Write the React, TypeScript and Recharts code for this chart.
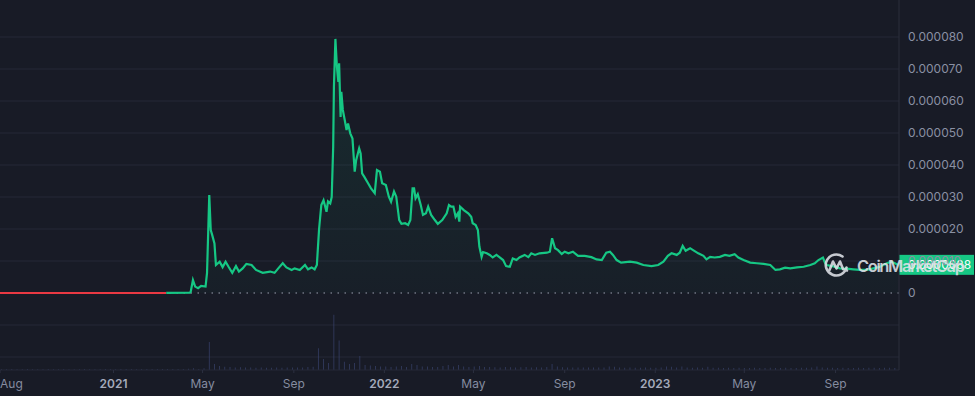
import React from "react";
import {
  ComposedChart, Line, Area, Bar, XAxis, YAxis, CartesianGrid, ReferenceLine,
} from "recharts";

// price in millionths of USD
const PRICE_UNIT = 1e-6;

const redDates = [
  "2020-08-01", "2020-09-01", "2020-10-01", "2020-11-01", "2020-12-01",
  "2021-01-01", "2021-02-01", "2021-03-13",
];
const redPrices = [0.001, 0.001, 0.001, 0.002, 0.002, 0.003, 0.008, 0.03];

const priceDates = [
  "2021-03-13", "2021-04-14", "2021-04-15", "2021-04-18", "2021-04-21", "2021-04-25", "2021-04-29",
  "2021-05-05", "2021-05-07", "2021-05-10", "2021-05-12", "2021-05-14", "2021-05-17", "2021-05-19",
  "2021-05-24", "2021-05-28", "2021-06-01", "2021-06-05", "2021-06-10", "2021-06-15", "2021-06-19",
  "2021-06-24", "2021-06-29", "2021-07-06", "2021-07-12", "2021-07-21", "2021-07-31", "2021-08-06",
  "2021-08-11", "2021-08-17", "2021-08-22", "2021-08-29", "2021-09-02", "2021-09-09", "2021-09-16",
  "2021-09-20", "2021-09-25", "2021-09-29", "2021-10-02", "2021-10-05", "2021-10-08", "2021-10-11",
  "2021-10-15", "2021-10-17", "2021-10-20", "2021-10-22", "2021-10-24", "2021-10-25", "2021-10-27",
  "2021-10-29", "2021-10-31", "2021-11-01", "2021-11-03", "2021-11-04", "2021-11-06", "2021-11-09",
  "2021-11-11", "2021-11-13", "2021-11-16", "2021-11-19", "2021-11-22", "2021-11-24", "2021-11-28",
  "2021-11-30", "2021-12-02", "2021-12-05", "2021-12-10", "2021-12-14", "2021-12-19", "2021-12-22",
  "2021-12-26", "2021-12-29", "2022-01-03", "2022-01-07", "2022-01-10", "2022-01-14", "2022-01-17",
  "2022-01-21", "2022-01-24", "2022-01-29", "2022-02-02", "2022-02-05", "2022-02-08", "2022-02-10",
  "2022-02-12", "2022-02-15", "2022-02-19", "2022-02-22", "2022-02-26", "2022-03-01", "2022-03-05",
  "2022-03-10", "2022-03-14", "2022-03-20", "2022-03-26", "2022-03-29", "2022-04-01", "2022-04-04",
  "2022-04-07", "2022-04-10", "2022-04-12", "2022-04-13", "2022-04-18", "2022-04-24", "2022-04-28",
  "2022-04-30", "2022-05-04", "2022-05-07", "2022-05-09", "2022-05-12", "2022-05-14", "2022-05-19",
  "2022-05-23", "2022-05-27", "2022-06-01", "2022-06-05", "2022-06-10", "2022-06-14", "2022-06-19",
  "2022-06-23", "2022-06-28", "2022-07-02", "2022-07-09", "2022-07-14", "2022-07-18", "2022-07-23",
  "2022-07-29", "2022-08-08", "2022-08-12", "2022-08-15", "2022-08-19", "2022-08-23", "2022-08-28",
  "2022-09-01", "2022-09-06", "2022-09-12", "2022-09-19", "2022-09-28", "2022-10-07", "2022-10-14",
  "2022-10-21", "2022-10-27", "2022-11-01", "2022-11-05", "2022-11-10", "2022-11-16", "2022-11-28",
  "2022-12-07", "2022-12-16", "2022-12-27", "2023-01-05", "2023-01-12", "2023-01-18", "2023-01-23",
  "2023-01-30", "2023-02-03", "2023-02-07", "2023-02-11", "2023-02-17", "2023-02-21", "2023-02-28",
  "2023-03-07", "2023-03-11", "2023-03-16", "2023-03-22", "2023-03-29", "2023-04-05", "2023-04-11",
  "2023-04-18", "2023-04-23", "2023-04-30", "2023-05-09", "2023-05-18", "2023-05-27", "2023-06-05",
  "2023-06-12", "2023-06-18", "2023-06-25", "2023-07-02", "2023-07-11", "2023-07-20", "2023-07-29",
  "2023-08-04", "2023-08-09", "2023-08-15", "2023-08-18", "2023-08-20", "2023-08-29", "2023-09-07",
  "2023-09-16", "2023-09-25", "2023-10-04", "2023-10-13", "2023-10-22", "2023-10-31", "2023-11-09",
  "2023-11-15", "2023-11-20", "2023-11-24",
];
const prices = [
  0.03, 0.1, 0.4, 4.06, 2.0, 1.5, 2.2,
  2.0, 6.3, 30.6, 19.7, 18.1, 15.5, 8.75,
  9.8, 8.1, 9.8, 8.2, 6.3, 8.4, 6.7,
  7.7, 9.1, 8.75, 7.2, 6.3, 6.7, 6.3,
  7.7, 9.3, 8.0, 7.2, 7.7, 7.2, 8.75,
  7.4, 8.0, 7.4, 8.75, 20, 27.5, 29,
  25.4, 28.6, 28, 30, 45.7, 64.5, 79.4,
  70.7, 66, 71.8, 55, 62.9, 57.2, 53.5,
  50.9, 53, 49.9, 48.3, 37.9, 41.6, 45.2,
  43.6, 37.4, 36.3, 34.3, 32.7, 31.2, 38.4,
  37.9, 34.3, 33.75, 30.1, 28.5, 31.7, 30.1,
  22.8, 21.6, 21.8, 21.25, 22.8, 32.7, 32.7,
  29.6, 30.9, 27.5, 24.4, 24.9, 27, 24.4,
  22.8, 21.6, 22.8, 24.9, 27.5, 27, 27,
  23.8, 24.9, 22.3, 27, 25.9, 24.9, 23.8,
  21.8, 21.25, 19.7, 14.5, 11.3, 12.8, 12.4,
  11.9, 11.1, 11.9, 11.2, 10.3, 8.4, 8.2,
  10.8, 10.3, 11.1, 11.9, 11.2, 12.4, 11.9,
  12.4, 12.6, 12.9, 17.1, 14, 13.4, 12.2,
  12.9, 12.4, 12.9, 11.6, 11.6, 11.2, 10.5,
  10.3, 12.6, 12.9, 11.9, 10.3, 9.5, 9.8,
  9.5, 8.75, 8.4, 8.75, 9.8, 11.6, 12.4,
  11.9, 12.6, 14.7, 13.2, 14, 13.4, 12.4,
  11.6, 10.5, 11.3, 11.1, 11.3, 11.9, 11.6,
  12.1, 11.1, 10.3, 9.5, 9.3, 9.1, 8.75,
  7.2, 7.4, 7.9, 7.7, 8.0, 8.2, 8.75,
  9.3, 10.3, 11.1, 9.3, 8.75, 8.3, 7.7,
  7.6, 7.4, 7.2, 7.2, 7.7, 8.2, 9.3,
  9.8, 9.3, 8.8,
];

// weekly volume (billion USD), first week starting 2020-08-03
const volumeStart = "2020-08-03";
const volumes = [
  0.2, 0.2, 0.25, 0.2, 0.2, 0.25, 0.2, 0.2, 0.2, 0.25,
  0.2, 0.2, 0.25, 0.2, 0.2, 0.2, 0.25, 0.2, 0.2, 0.2,
  0.25, 0.2, 0.2, 0.25, 0.3, 0.25, 0.2, 0.25, 0.3, 0.25,
  0.3, 0.25, 0.3, 0.3, 0.25, 0.3, 0.35, 0.45, 0.3, 0.45,
  7.6, 1.6, 1.1, 0.85, 0.8, 0.7, 0.75, 0.65, 0.7, 0.6,
  0.65, 0.6, 0.6, 0.65, 0.6, 0.7, 0.65, 0.7, 0.7, 0.8,
  0.85, 5.9, 3.0, 1.9, 14.9, 8.0, 2.2, 1.6, 1.9, 3.8,
  1.35, 1.2, 1.1, 0.95, 0.95, 0.8, 0.95, 1.1, 0.8, 1.6,
  1.35, 0.95, 0.95, 0.8, 0.8, 1.1, 1.35, 0.95, 1.35, 0.95,
  0.8, 0.95, 1.1, 0.8, 0.8, 0.75, 0.7, 0.8, 0.75, 0.7,
  0.75, 0.8, 0.7, 0.75, 0.7, 0.8, 1.6, 0.95, 0.75, 0.7,
  0.7, 0.65, 0.7, 0.65, 0.7, 0.65, 0.7, 0.95, 0.85, 0.65,
  0.6, 0.65, 0.6, 0.6, 0.65, 0.6, 0.6, 0.65, 0.95, 0.85,
  0.65, 0.95, 0.7, 0.6, 0.65, 0.6, 0.85, 0.6, 0.6, 0.55,
  0.6, 0.55, 0.6, 0.55, 0.55, 0.6, 0.55, 0.55, 0.6, 0.55,
  0.55, 0.6, 0.55, 0.55, 0.6, 0.6, 0.65, 0.95, 0.65, 0.6,
  0.6, 0.55, 0.6, 0.55, 0.55, 0.6, 0.55, 0.6, 0.6, 0.55,
  0.6, 0.6, 0.55,
];

const tickDates = [
  "2020-08-01", "2021-01-01", "2021-05-01", "2021-09-01", "2022-01-01",
  "2022-05-01", "2022-09-01", "2023-01-01", "2023-05-01", "2023-09-01",
];
const tickLabels = ["Aug", "2021", "May", "Sep", "2022", "May", "Sep", "2023", "May", "Sep"];
const priceTicks = [-0.00002, -0.00001, 0, 0.00001, 0.00002, 0.00003, 0.00004, 0.00005, 0.00006, 0.00007, 0.00008];

const DAY = 86400000;
const xStart = Date.parse("2020-08-01");
const xEnd = Date.parse("2023-11-25") + DAY / 2;

const redData = redDates.map((d, i) => ({ t: Date.parse(d), p: redPrices[i] * PRICE_UNIT }));
const greenData = priceDates.map((d, i) => ({ t: Date.parse(d), p: prices[i] * PRICE_UNIT }));
const volumeData = volumes.map((v, i) => ({ t: Date.parse(volumeStart) + i * 7 * DAY, vol: v }));
const tickTimes = tickDates.map((d) => Date.parse(d));
const lastPrice = greenData[greenData.length - 1].p;

const FONT = "Inter, 'Noto Sans', sans-serif";
const BG = "#181b26";
const GRID = "#242836";
const GREEN = "#16c784";
const RED = "#ea3943";

const XTick = (props: any) => {
  const { x, payload } = props;
  const idx = tickTimes.indexOf(payload.value);
  const label = tickLabels[idx] ?? "";
  const isYear = /^\d{4}$/.test(label);
  return (
    <text
      x={idx === 0 ? 0 : x}
      y={388}
      textAnchor={idx === 0 ? "start" : "middle"}
      fill={isYear ? "#a4aabb" : "#858ca0"}
      fontSize={12}
      fontWeight={isYear ? 600 : 400}
      fontFamily={FONT}
    >
      {label}
    </text>
  );
};

const YTick = (props: any) => {
  const { y, payload } = props;
  if (payload.value < 0) return <g />;
  const txt = payload.value === 0 ? "0" : payload.value.toFixed(6);
  return (
    <text x={908} y={y + 4} fill="#8a90a3" fontSize={12} fontFamily={FONT}>
      {txt}
    </text>
  );
};

const PriceTag = (props: any) => {
  const vb = props.viewBox || {};
  const x = (vb.x ?? 0) + (vb.width ?? 0);
  const y = vb.y ?? 0;
  return (
    <g>
      <rect x={x} y={y - 10} width={75} height={20} fill={GREEN} />
      <text x={x + 9} y={y + 4.5} fill="#f2fff9" fontSize={12} fontFamily={FONT}>
        {lastPrice.toFixed(7)}
      </text>
    </g>
  );
};

export default function App() {
  return (
    <div style={{ position: "absolute", left: 0, top: 0, width: 975, height: 396, background: BG }}>
      <ComposedChart
        width={975}
        height={396}
        data={volumeData}
        margin={{ top: 0, right: 0, bottom: 0, left: 0 }}
      >
        <defs>
          <linearGradient id="areaFill" x1="0" y1="0" x2="0" y2="1">
            <stop offset="0%" stopColor={GREEN} stopOpacity={0.17} />
            <stop offset="100%" stopColor={GREEN} stopOpacity={0.04} />
          </linearGradient>
        </defs>
        <CartesianGrid
          yAxisId="price"
          vertical={false}
          stroke={GRID}
          horizontalValues={priceTicks.filter((v) => v !== 0)}
        />
        <XAxis
          dataKey="t"
          type="number"
          domain={[xStart, xEnd]}
          allowDataOverflow
          ticks={tickTimes}
          interval={0}
          height={26}
          axisLine={{ stroke: GRID }}
          tickLine={{ stroke: "#2c3040" }}
          tickSize={3}
          tick={<XTick />}
        />
        <YAxis
          yAxisId="price"
          orientation="right"
          type="number"
          width={76}
          domain={[-0.0000240625, 0.0000915625]}
          allowDataOverflow
          ticks={priceTicks}
          interval={0}
          axisLine={{ stroke: "#2a2e3b" }}
          tickLine={false}
          tick={<YTick />}
        />
        <YAxis yAxisId="vol" hide domain={[0, 100]} allowDataOverflow />
        <Bar yAxisId="vol" dataKey="vol" fill="#3a4470" barSize={4} isAnimationActive={false} />
        <ReferenceLine
          yAxisId="price"
          y={0}
          stroke="#9aa0b0"
          strokeDasharray="1.5 5.5"
          strokeWidth={1.2}
        />
        <Area
          yAxisId="price"
          data={greenData}
          dataKey="p"
          type="linear"
          stroke="none"
          fill="url(#areaFill)"
          baseValue={0}
          dot={false}
          activeDot={false}
          isAnimationActive={false}
        />
        <Line
          yAxisId="price"
          data={redData}
          dataKey="p"
          type="linear"
          stroke={RED}
          strokeWidth={2}
          dot={false}
          activeDot={false}
          isAnimationActive={false}
        />
        <Line
          yAxisId="price"
          data={greenData}
          dataKey="p"
          type="linear"
          stroke={GREEN}
          strokeWidth={2.2}
          dot={false}
          activeDot={false}
          isAnimationActive={false}
        />
        <ReferenceLine
          yAxisId="price"
          y={lastPrice}
          stroke="none"
          strokeWidth={0}
          label={<PriceTag />}
        />
      </ComposedChart>
      <svg
        width={975}
        height={396}
        style={{ position: "absolute", left: 0, top: 0, pointerEvents: "none" }}
      >
        <g opacity={0.88} fill="none" stroke="#dfe2e8" strokeWidth={2.6} strokeLinecap="round" strokeLinejoin="round">
          <path d="M 846.5 267.5 A 10.5 10.5 0 1 1 842.5 256.5" />
          <path d="M 829.5 270 L 833 261.5 L 836.5 268.5 L 840 261.5 L 843 269 L 847 270.5" />
        </g>
        <text
          x={857}
          y={272}
          fill="#dfe2e8"
          opacity={0.88}
          fontSize={16.5}
          fontWeight={600}
          fontFamily={FONT}
          textLength={108}
        >
          CoinMarketCap
        </text>
      </svg>
    </div>
  );
}
